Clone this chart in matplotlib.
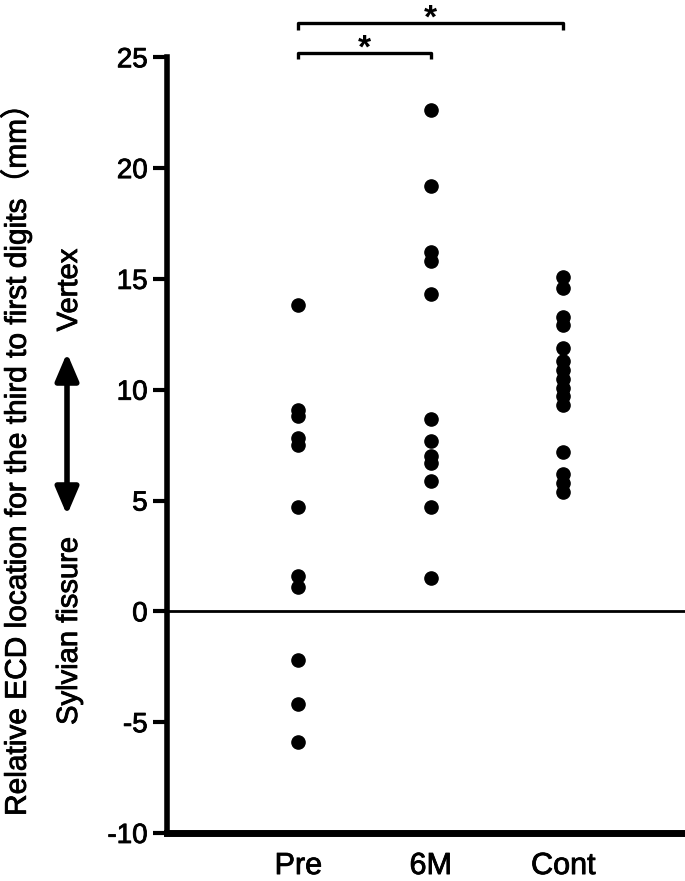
import matplotlib
matplotlib.use("Agg")
import matplotlib.pyplot as plt
import matplotlib.patheffects as pe

GROUPS = ["Pre", "6M", "Cont"]
PRE = [13.8, 9.1, 8.8, 7.8, 7.5, 4.7, 1.6, 1.1, -2.2, -4.2, -5.9]
SIX_M = [22.6, 19.2, 16.2, 15.8, 14.3, 8.7, 7.7, 7.0, 6.7, 5.9, 4.7, 1.5]
CONT = [15.1, 14.6, 13.3, 12.9, 11.9, 11.3, 10.9, 10.5, 10.1, 9.7, 9.3, 7.2, 6.2, 5.8, 5.4]
YTICKS = [-10, -5, 0, 5, 10, 15, 20, 25]
# significance brackets: (from group, to group, bracket level)
BRACKETS = [(0, 1, 25.2), (0, 2, 26.55)]

FAM = ["Liberation Sans", "Noto Sans CJK JP", "DejaVu Sans"]
plt.rcParams["font.family"] = FAM
# slightly heavier strokes, the source figure's text looks a bit thick
THICK = [pe.withStroke(linewidth=0.6, foreground="black")]

fig = plt.figure(figsize=(6.85, 8.81), dpi=100)
ax = fig.add_axes([0.244, 0.0545, 0.756, 0.8805])

for i, vals in enumerate([PRE, SIX_M, CONT]):
    ax.plot([i] * len(vals), vals, "o", color="black", ms=9.5, mec="black")

ax.axhline(0, color="black", lw=2)

ax.set_xlim(-0.99, 2.92)
ax.set_ylim(-10, 25)
ax.set_yticks(YTICKS)
ax.set_yticklabels([str(v) for v in YTICKS], fontsize=20)
ax.set_xticks(range(len(GROUPS)))
ax.set_xticklabels(GROUPS, fontsize=22)
ax.tick_params(axis="y", length=10, width=3, pad=4)
ax.tick_params(axis="x", length=0, pad=13)
for lbl in ax.get_xticklabels() + ax.get_yticklabels():
    lbl.set_path_effects(THICK)

for side in ["top", "right"]:
    ax.spines[side].set_visible(False)
ax.spines["left"].set_linewidth(4)
ax.spines["bottom"].set_linewidth(5)

for a, b, lvl in BRACKETS:
    leg = 0.3
    ax.plot([a, a, b, b], [lvl - leg, lvl, lvl, lvl - leg], color="black",
            lw=2.4, clip_on=False, solid_capstyle="butt")
    ax.text((a + b) / 2, lvl - 0.2, "*", ha="center", va="baseline",
            fontsize=24, fontweight="bold", clip_on=False)

side_texts = [
    (16, 452, "Relative ECD location for the third to first digits（mm）", 21.5),
    (69, 290, "Vertex", 21),
    (69, 631, "Sylvian fissure", 21),
]
for px, py, txt, fs in side_texts:
    fig.text(px / 685, 1 - py / 881, txt, rotation=90, ha="center",
             va="center", fontsize=fs, path_effects=THICK)

ax.annotate("", xy=(67, 881 - 353), xytext=(67, 881 - 515),
            xycoords="figure pixels", textcoords="figure pixels",
            arrowprops=dict(arrowstyle="<|-|>,head_length=0.75,head_width=0.32",
                            lw=4, color="black", mutation_scale=22,
                            shrinkA=0, shrinkB=0))

fig.savefig("out.png", dpi=100)
